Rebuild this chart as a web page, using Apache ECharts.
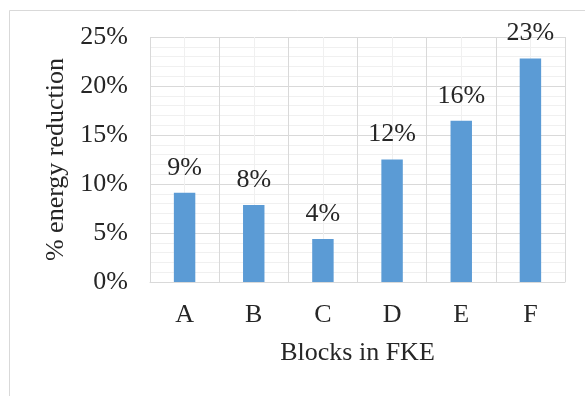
<!DOCTYPE html>
<html>
<head>
<meta charset="utf-8">
<script src="https://cdn.jsdelivr.net/npm/echarts@6/dist/echarts.min.js"></script>
<style>html,body{margin:0;padding:0;background:#fff}#c{width:585px;height:396px}</style>
</head>
<body>
<div id="c"></div>
<script>
const categories = ['A', 'B', 'C', 'D', 'E', 'F'];
const values = [9.1, 7.85, 4.4, 12.5, 16.45, 22.8];
const labels = ['9%', '8%', '4%', '12%', '16%', '23%'];
const yTicks = [0, 5, 10, 15, 20, 25];

const FONT = '"Liberation Serif", "Times New Roman", serif';
const TXT = '#262626';
const chart = echarts.init(document.getElementById('c'), null, {renderer: 'canvas'});
chart.setOption({
  animation: false,
  backgroundColor: '#fff',
  graphic: [{
    type: 'rect', left: 7, top: 8, z: -10,
    shape: {width: 620, height: 420},
    style: {fill: 'none', stroke: '#d9d9d9', lineWidth: 1}
  }],
  grid: {left: 150, right: 20, top: 37, bottom: 114},
  xAxis: [{
    type: 'category',
    data: categories,
    axisLine: {show: true, lineStyle: {color: '#d9d9d9', width: 1}},
    axisTick: {show: false},
    splitLine: {show: false},
    axisLabel: {color: TXT, fontFamily: FONT, fontSize: 26, margin: 20},
    name: 'Blocks in FKE',
    nameLocation: 'middle',
    nameGap: 58,
    nameTextStyle: {color: TXT, fontFamily: FONT, fontSize: 26}
  }, {
    type: 'value',
    min: 0, max: 6, interval: 1,
    position: 'bottom',
    axisLine: {show: false}, axisTick: {show: false}, axisLabel: {show: false},
    splitLine: {show: true, lineStyle: {color: '#d9d9d9', width: 1}},
    minorTick: {show: false, splitNumber: 2},
    minorSplitLine: {show: true, lineStyle: {color: '#f0f0f0', width: 1}}
  }],
  yAxis: {
    type: 'value',
    min: yTicks[0], max: yTicks[yTicks.length - 1], interval: 5,
    axisLine: {show: false},
    axisTick: {show: false},
    axisLabel: {color: TXT, fontFamily: FONT, fontSize: 26, margin: 22, formatter: v => v + '%'},
    splitLine: {show: true, lineStyle: {color: '#d9d9d9', width: 1}},
    minorTick: {show: false, splitNumber: 5},
    minorSplitLine: {show: true, lineStyle: {color: '#f0f0f0', width: 1}},
    name: '% energy reduction',
    nameLocation: 'middle',
    nameGap: 72,
    nameTextStyle: {color: TXT, fontFamily: FONT, fontSize: 26}
  },
  series: [{
    type: 'bar',
    xAxisIndex: 0,
    data: values,
    barWidth: '31%',
    itemStyle: {color: '#5b9bd5'},
    label: {
      show: true, position: 'top', distance: 12,
      color: TXT, fontFamily: FONT, fontSize: 26,
      formatter: p => labels[p.dataIndex]
    }
  }]
});
</script>
</body>
</html>
